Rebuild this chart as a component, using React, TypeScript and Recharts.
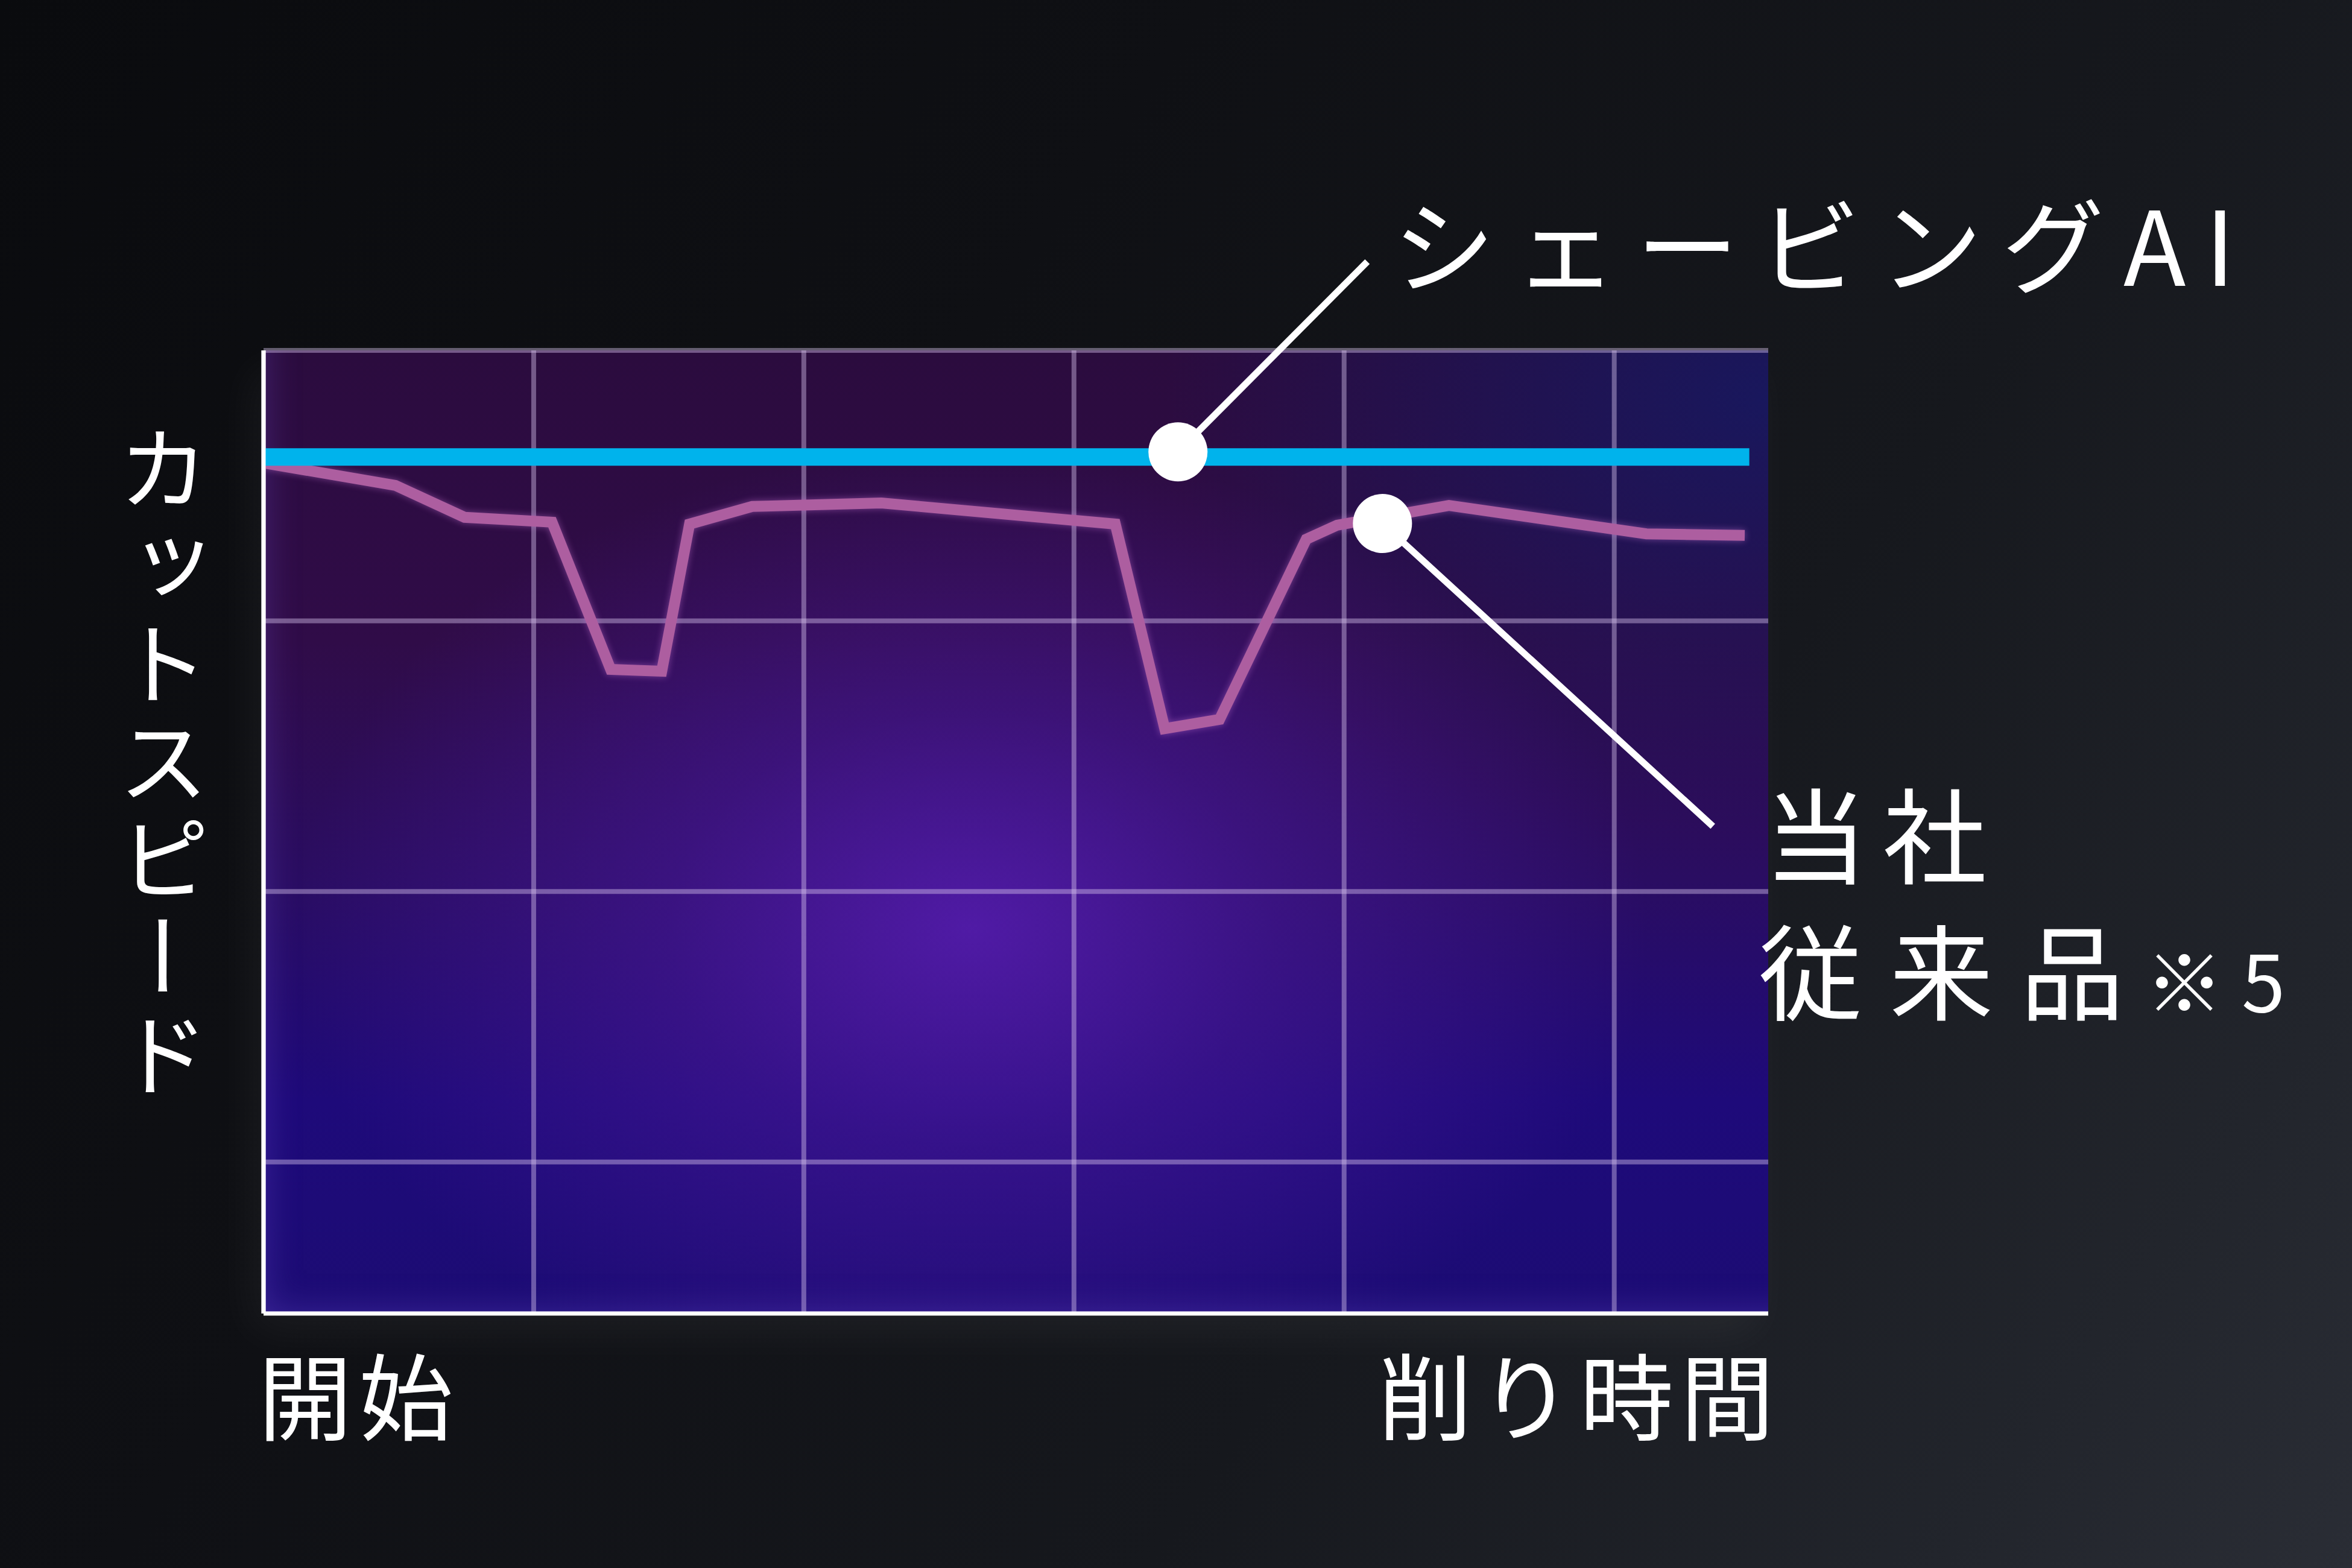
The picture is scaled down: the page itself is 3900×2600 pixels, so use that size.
import React from "react";
import {
  LineChart,
  Line,
  XAxis,
  YAxis,
  CartesianGrid,
  ReferenceLine,
  ReferenceDot,
} from "recharts";

// time axis runs in grid columns, speed axis in grid rows
const conventionalTime = [
  0, 0.488, 0.744, 1.068, 1.285, 1.474, 1.577, 1.809, 2.287, 3.153, 3.336,
  3.539, 3.86, 3.974, 4.388, 5.119, 5.483,
];
const conventionalSpeed = [
  2.584, 2.501, 2.383, 2.365, 1.821, 1.814, 2.358, 2.423, 2.436, 2.358, 1.602,
  1.636, 2.302, 2.354, 2.427, 2.322, 2.316,
];
const aiTime = [0, 5.5];
const aiSpeed = [2.606, 2.606];

const xTicks = [0, 1, 2, 3, 4, 5];
const yTicks = [0, 1, 2, 3];

// callout anchors (dot on the series, end of the leader line)
const aiCallout = { dot: { x: 3.385, y: 2.625 }, end: { x: 4.086, y: 3.328 } };
const ourCallout = { dot: { x: 4.142, y: 2.36 }, end: { x: 5.365, y: 1.241 } };

const conventionalData = conventionalTime.map((t, i) => ({ t, speed: conventionalSpeed[i] }));
const aiData = aiTime.map((t, i) => ({ t, speed: aiSpeed[i] }));

const FONT = "'Noto Sans CJK JP', 'Noto Sans', sans-serif";
const W = 3900;
const H = 2600;
const plot = { left: 437, top: 581, right: 2932, bottom: 2178 };

// ticks are only needed for the grid, no labels are drawn
const NoTick = () => <g />;

const App: React.FC = () => {
  return (
    <div
      style={{
        position: "absolute",
        left: 0,
        top: 0,
        width: W,
        height: H,
        overflow: "hidden",
        fontFamily: FONT,
        background:
          "linear-gradient(125deg, #0a0b0e 0%, #0f1014 35%, #16181d 65%, #22252c 88%, #2a2d35 100%)",
      }}
    >
      {/* plot backdrop */}
      <div
        style={{
          position: "absolute",
          left: plot.left,
          top: plot.top,
          width: plot.right - plot.left,
          height: plot.bottom - plot.top,
          boxShadow:
            "-20px 30px 70px rgba(255,255,255,0.05), inset 40px -40px 60px -40px rgba(120,90,220,0.35)",
          background: [
            "radial-gradient(ellipse 45% 50% at 47% 60%, rgba(84,28,172,0.9) 0%, rgba(72,24,152,0.55) 45%, rgba(60,20,130,0) 100%)",
            "radial-gradient(ellipse 40% 45% at 100% 5%, rgba(20,26,100,0.8) 0%, rgba(20,26,100,0) 100%)",
            "linear-gradient(180deg, #2b0c3e 0%, #300c48 30%, #2a0d62 55%, #1e0a7a 78%, #1c0c74 100%)",
          ].join(", "),
        }}
      />

      <div style={{ position: "absolute", left: 0, top: 0 }}>
        <LineChart
          width={W}
          height={H}
          margin={{
            top: plot.top,
            right: W - plot.right,
            bottom: H - plot.bottom - 1,
            left: plot.left - 1,
          }}
        >
          <CartesianGrid stroke="rgba(220,200,240,0.42)" strokeWidth={8} syncWithTicks />
          <XAxis
            type="number"
            dataKey="t"
            domain={[0, 5.57]}
            ticks={xTicks}
            interval={0}
            allowDataOverflow
            height={1}
            tick={NoTick}
            tickLine={false}
            stroke="#ffffff"
            strokeWidth={7}
            axisLine={{ stroke: "#ffffff", strokeWidth: 7 }}
          />
          <YAxis
            type="number"
            dataKey="speed"
            domain={[-0.56, 3]}
            ticks={yTicks}
            interval={0}
            allowDataOverflow
            width={1}
            tick={NoTick}
            tickLine={false}
            stroke="#ffffff"
            strokeWidth={7}
            axisLine={{ stroke: "#ffffff", strokeWidth: 7 }}
          />
          <Line
            data={conventionalData}
            dataKey="speed"
            type="linear"
            stroke="#ad5ea0"
            strokeWidth={18}
            strokeLinejoin="miter"
            dot={false}
            activeDot={false}
            isAnimationActive={false}
            style={{ filter: "drop-shadow(0 0 6px rgba(210,120,220,0.45))" }}
          />
          <Line
            data={aiData}
            dataKey="speed"
            type="linear"
            stroke="#00b3ec"
            strokeWidth={29}
            strokeLinecap="butt"
            dot={false}
            activeDot={false}
            isAnimationActive={false}
          />
          <ReferenceLine
            segment={[aiCallout.dot, aiCallout.end]}
            stroke="#ffffff"
            strokeWidth={11}
            ifOverflow="visible"
          />
          <ReferenceLine
            segment={[ourCallout.dot, ourCallout.end]}
            stroke="#ffffff"
            strokeWidth={11}
            ifOverflow="visible"
          />
          <ReferenceDot
            x={aiCallout.dot.x}
            y={aiCallout.dot.y}
            r={49}
            fill="#ffffff"
            stroke="none"
            ifOverflow="visible"
          />
          <ReferenceDot
            x={ourCallout.dot.x}
            y={ourCallout.dot.y}
            r={49}
            fill="#ffffff"
            stroke="none"
            ifOverflow="visible"
          />
        </LineChart>
      </div>

      {/* labels */}
      <svg
        width={W}
        height={H}
        style={{ position: "absolute", left: 0, top: 0, pointerEvents: "none" }}
      >
        <g fill="#ffffff" fontFamily={FONT}>
          <text x={2309} y={474} fontSize={170} letterSpacing={32}>
            シェービングAI
          </text>
          <text fontSize={172}>
            <tspan x={2925} y={1452} letterSpacing={25}>
              当社
            </tspan>
            <tspan x={2916} y={1678} letterSpacing={45}>
              従来品
            </tspan>
            <tspan fontSize={130} letterSpacing={30} dx={-10}>
              ※5
            </tspan>
          </text>
          <text x={428} y={2376} fontSize={156} letterSpacing={11}>
            開始
          </text>
          <text x={2285} y={2376} fontSize={156} letterSpacing={11}>
            削り時間
          </text>
        </g>
      </svg>

      <div
        style={{
          position: "absolute",
          left: 195,
          top: 700,
          writingMode: "vertical-rl",
          fontSize: 152,
          lineHeight: 1,
          letterSpacing: 10,
          color: "#ffffff",
          fontFamily: FONT,
        }}
      >
        カットスピード
      </div>
    </div>
  );
};

export default App;
